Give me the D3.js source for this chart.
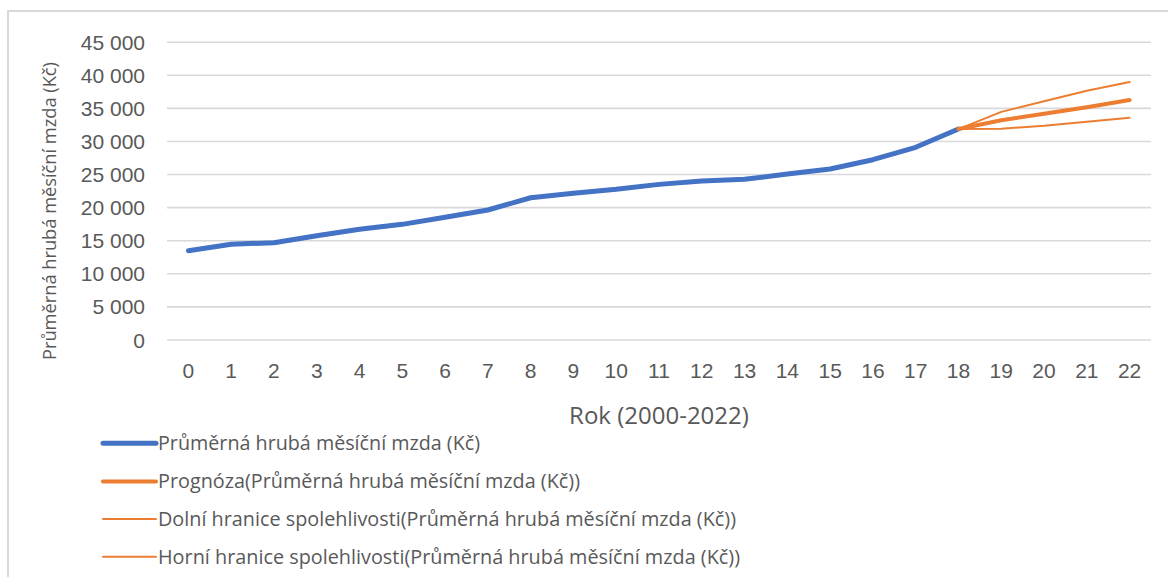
<!DOCTYPE html>
<html lang="cs">
<head>
<meta charset="utf-8">
<title>Průměrná hrubá měsíční mzda – prognóza</title>
<script src="https://cdn.jsdelivr.net/npm/d3@7/dist/d3.min.js"></script>
<style>
  html, body { margin: 0; padding: 0; background: #fff; }
  svg { display: block; font-family: "Open Sans", "Noto Sans", sans-serif; }
  .tick text { fill: #595959; }
</style>
</head>
<body>
<svg id="chart" width="1168" height="577"></svg>
<script>
// Roky 2000–2022 očíslované 0–22
const years = d3.range(0, 23);

// Skutečná průměrná hrubá měsíční mzda (Kč), roky 0–18
const wageYears = d3.range(0, 19);
const wage = [13420, 14390, 14630, 15690, 16650, 17400, 18460, 19570, 21420, 22090,
              22690, 23440, 23950, 24200, 25000, 25760, 27170, 29040, 31800];

// Prognóza a meze spolehlivosti, roky 18–22
const forecastYears = [18, 19, 20, 21, 22];
const forecast = [31800, 33120, 34100, 35100, 36200];
const lowerBound = [31800, 31850, 32300, 32900, 33500];
const upperBound = [31800, 34400, 36000, 37600, 38900];

// Hodnoty mřížky na ose Y
const yTicks = [0, 5000, 10000, 15000, 20000, 25000, 30000, 35000, 40000, 45000];

// Popisky legendy
const legendNames = [
  "Průměrná hrubá měsíční mzda (Kč)",
  "Prognóza(Průměrná hrubá měsíční mzda (Kč))",
  "Dolní hranice spolehlivosti(Průměrná hrubá měsíční mzda (Kč))",
  "Horní hranice spolehlivosti(Průměrná hrubá měsíční mzda (Kč))"
];

const blue = "#4472C4";
const orange = "#ED7D31";
const grid = "#D9D9D9";
const textColor = "#595959";

const svg = d3.select("#chart");

// Rámeček oblasti grafu
svg.append("rect")
  .attr("x", 8).attr("y", 11)
  .attr("width", 1168).attr("height", 600)
  .attr("fill", "#fff")
  .attr("stroke", grid).attr("stroke-width", 2);

const plot = { left: 167, right: 1151, top: 41.7, bottom: 339.5 };

const x = d3.scaleBand()
  .domain(years)
  .range([plot.left, plot.right])
  .padding(0);

const y = d3.scaleLinear()
  .domain([0, 45000])
  .range([plot.bottom, plot.top]);

const cx = d => x(d) + x.bandwidth() / 2;

// Vodorovná mřížka
svg.append("g")
  .attr("transform", `translate(${plot.left},0)`)
  .call(d3.axisLeft(y).tickValues(yTicks).tickSize(-(plot.right - plot.left)).tickFormat(""))
  .call(g => g.select(".domain").remove())
  .call(g => g.selectAll(".tick line").attr("stroke", grid).attr("stroke-width", 1.6));

// Osa Y – popisky s mezerou mezi tisíci
const thousands = v => d3.format(",")(v).replace(/,/g, " ");
svg.append("g")
  .attr("transform", `translate(${plot.left - 22},0)`)
  .call(d3.axisLeft(y).tickValues(yTicks).tickSize(0).tickPadding(0).tickFormat(thousands))
  .call(g => g.select(".domain").remove())
  .call(g => g.selectAll(".tick text")
    .attr("font-size", 21)
    .attr("fill", textColor)
    .attr("dy", "0.36em"));

// Osa X – popisky
svg.append("g")
  .attr("transform", `translate(0,${plot.bottom})`)
  .call(d3.axisBottom(x).tickSize(0).tickPadding(0))
  .call(g => g.select(".domain").remove())
  .call(g => g.selectAll(".tick text")
    .attr("font-size", 21)
    .attr("fill", textColor)
    .attr("dy", 0)
    .attr("y", 38.5));

// Názvy os
svg.append("text")
  .attr("x", (plot.left + plot.right) / 2)
  .attr("y", 424)
  .attr("text-anchor", "middle")
  .attr("font-size", 24)
  .attr("fill", textColor)
  .text("Rok (2000-2022)");

svg.append("text")
  .attr("transform", "translate(56,211) rotate(-90)")
  .attr("text-anchor", "middle")
  .attr("font-size", 18)
  .attr("fill", textColor)
  .attr("textLength", 298)
  .attr("lengthAdjust", "spacingAndGlyphs")
  .text("Průměrná hrubá měsíční mzda (Kč)");

// Čáry
const line = d3.line()
  .x(d => cx(d[0]))
  .y(d => y(d[1]));

const drawSeries = (xs, vals, color, width) =>
  svg.append("path")
    .datum(d3.zip(xs, vals))
    .attr("d", line)
    .attr("fill", "none")
    .attr("stroke", color)
    .attr("stroke-width", width)
    .attr("stroke-linejoin", "round")
    .attr("stroke-linecap", "round");

drawSeries(forecastYears, lowerBound, orange, 2);
drawSeries(forecastYears, upperBound, orange, 2);
drawSeries(wageYears, wage, blue, 5);
drawSeries(forecastYears, forecast, orange, 4);

// Legenda
const legendStyles = [
  { color: blue, width: 5 },
  { color: orange, width: 4 },
  { color: orange, width: 2 },
  { color: orange, width: 2 }
];
const legendTextLen = [322, 422, 578, 582];
const legendY = [443.3, 481.5, 519, 556.7];

const legend = svg.append("g");
legendNames.forEach((name, i) => {
  legend.append("line")
    .attr("x1", 103).attr("x2", 156)
    .attr("y1", legendY[i]).attr("y2", legendY[i])
    .attr("stroke", legendStyles[i].color)
    .attr("stroke-width", legendStyles[i].width)
    .attr("stroke-linecap", "round");
  legend.append("text")
    .attr("x", 158)
    .attr("y", legendY[i])
    .attr("dy", "0.35em")
    .attr("font-size", 19.5)
    .attr("fill", textColor)
    .attr("textLength", legendTextLen[i])
    .attr("lengthAdjust", "spacingAndGlyphs")
    .text(name);
});
</script>
</body>
</html>
